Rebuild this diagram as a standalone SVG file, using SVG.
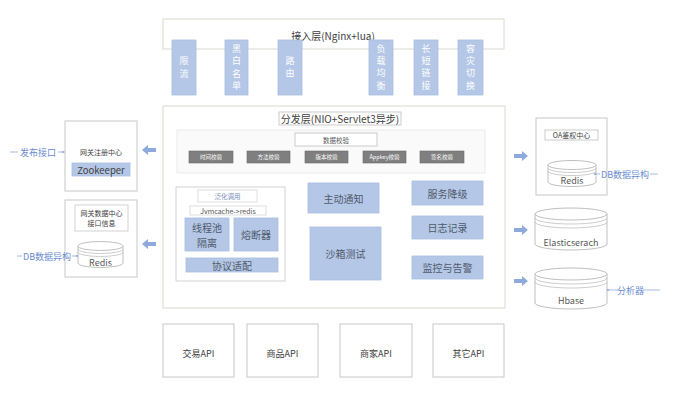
<svg xmlns="http://www.w3.org/2000/svg" width="673" height="399" viewBox="0 0 673 399">
<defs>
<style>
text{font-family:"Noto Sans CJK SC","Liberation Sans",sans-serif;text-anchor:middle;dominant-baseline:central}
.frame{fill:#fff;stroke:#d9d9d0;stroke-width:1}
.frameg{fill:#fff;stroke:#c8c8c8;stroke-width:1}
.blue{fill:#b4c7e7;stroke:#a9bde0;stroke-width:0.8}
.vt{fill:#fff;font-size:9px}
.bt{fill:#505a6a;font-size:10px}
.gray{fill:#7f7f7f;stroke:#6a6a6a;stroke-width:0.6}
.gt{fill:#fff;font-size:5.5px}
.lbl{fill:#6a8bd0;font-size:9px}
.ln{stroke:#8faadc;stroke-width:0.8;fill:none}
.cyl{fill:#fff;stroke:#bfbfbf;stroke-width:1}
.cl{fill:none;stroke:#bfbfbf;stroke-width:0.8}
.dt{fill:#595959;font-size:9px}
.arr{fill:#8ea9db}
</style>
</defs>

<g id="access-layer">
<rect class="frame" x="163" y="19" width="341" height="30"/>
<text x="333" y="35" font-size="10" fill="#404040">接入层(Nginx+lua)</text>
</g>
<g id="xianliu"><rect class="blue" x="172" y="40" width="24" height="55"/><text class="vt" x="184" y="60">限</text><text class="vt" x="184" y="73">流</text></g>
<g id="heibai"><rect class="blue" x="225" y="40" width="23" height="55"/><text class="vt" x="236.5" y="48">黑</text><text class="vt" x="236.5" y="60">白</text><text class="vt" x="236.5" y="73">名</text><text class="vt" x="236.5" y="85">单</text></g>
<g id="luyou"><rect class="blue" x="278" y="40" width="24" height="55"/><text class="vt" x="290" y="60">路</text><text class="vt" x="290" y="72">由</text></g>
<g id="fuzai"><rect class="blue" x="369" y="40" width="24" height="55"/><text class="vt" x="381" y="48">负</text><text class="vt" x="381" y="60">载</text><text class="vt" x="381" y="72">均</text><text class="vt" x="381" y="85">衡</text></g>
<g id="changduan"><rect class="blue" x="414" y="40" width="24" height="55"/><text class="vt" x="426" y="48">长</text><text class="vt" x="426" y="60">短</text><text class="vt" x="426" y="72">链</text><text class="vt" x="426" y="85">接</text></g>
<g id="rongzai"><rect class="blue" x="458" y="40" width="25" height="55"/><text class="vt" x="470.5" y="48">容</text><text class="vt" x="470.5" y="60">灾</text><text class="vt" x="470.5" y="72">切</text><text class="vt" x="470.5" y="85">换</text></g>

<g id="dispatch-layer">
<rect class="frame" x="163" y="106" width="342" height="202"/>
<rect fill="#fff" stroke="#bfbfbf" stroke-width="0.8" x="279" y="112" width="122" height="13"/>
<text x="340" y="118.5" font-size="10" fill="#404040">分发层(NIO+Servlet3异步)</text>
</g>
<g id="data-check">
<rect fill="#fafafa" stroke="#e6e6e6" stroke-width="0.8" x="177" y="130" width="308" height="43"/>
<rect fill="#fff" stroke="#bfbfbf" stroke-width="0.8" x="295" y="133" width="82" height="13"/>
<text x="336" y="139.5" font-size="6.5" fill="#595959">数据校验</text>
<rect class="gray" x="189" y="151" width="44" height="12"/><text class="gt" x="211" y="157">时间校验</text>
<rect class="gray" x="247" y="151" width="43" height="12"/><text class="gt" x="268.5" y="157">方法校验</text>
<rect class="gray" x="305" y="151" width="43" height="12"/><text class="gt" x="326.5" y="157">版本校验</text>
<rect class="gray" x="363" y="151" width="43" height="12"/><text class="gt" x="384.5" y="157">Appkey校验</text>
<rect class="gray" x="420" y="151" width="44" height="12"/><text class="gt" x="442" y="157">签名校验</text>
</g>
<g id="generic-call">
<rect fill="#fff" stroke="#c8c8c8" stroke-width="0.8" x="176" y="187" width="109" height="94"/>
<rect fill="#fff" stroke="#c8c8c8" stroke-width="0.6" x="198" y="190" width="59" height="12"/>
<text x="227.5" y="196" font-size="6.5" fill="#7a8fc0">泛化调用</text>
<rect fill="#fff" stroke="#c8c8c8" stroke-width="0.6" x="190" y="206" width="76" height="9"/>
<text x="228" y="210.5" font-size="7" fill="#555" font-family="Liberation Serif,serif">Jvmcache-&gt;redis</text>
<rect class="blue" x="185" y="218" width="44" height="33"/><text class="bt" x="207" y="227">线程池</text><text class="bt" x="207" y="242.5">隔离</text>
<rect class="blue" x="234" y="218" width="44" height="33"/><text class="bt" x="256" y="234.5">熔断器</text>
<rect class="blue" x="186" y="258" width="92" height="14"/><text class="bt" x="232" y="265">协议适配</text>
</g>
<g id="notify"><rect class="blue" x="308" y="183" width="71" height="30"/><text class="bt" x="343.5" y="198">主动通知</text></g>
<g id="sandbox"><rect class="blue" x="310" y="227" width="71" height="53"/><text class="bt" x="345.5" y="253">沙箱测试</text></g>
<g id="degrade"><rect class="blue" x="412" y="181" width="71" height="24"/><text class="bt" x="447.5" y="193">服务降级</text></g>
<g id="log"><rect class="blue" x="412" y="216" width="71" height="23"/><text class="bt" x="447.5" y="227.5">日志记录</text></g>
<g id="monitor"><rect class="blue" x="412" y="256" width="71" height="23"/><text class="bt" x="447.5" y="267.5">监控与告警</text></g>

<g id="registry">
<rect class="frameg" x="65" y="121" width="72" height="70"/>
<text x="101" y="152" font-size="7" fill="#404040">网关注册中心</text>
<rect class="blue" x="72" y="163" width="58" height="13"/>
<text x="101" y="169.5" font-size="9.5" fill="#404040">Zookeeper</text>
</g>
<g id="datacenter">
<rect class="frameg" x="65" y="200" width="72" height="77"/>
<rect fill="#fff" stroke="#c8c8c8" stroke-width="0.8" x="75" y="205" width="53" height="26"/>
<text x="101.5" y="213" font-size="7" fill="#404040">网关数据中心</text>
<text x="101.5" y="223" font-size="7" fill="#404040">接口信息</text>
<path class="cyl" d="M78,246 v17 a22.5,4.5 0 0 0 45,0 v-17"/>
<ellipse class="cyl" cx="100.5" cy="246" rx="22.5" ry="4.5"/>
<path class="cl" d="M78,249 a22.5,4.5 0 0 0 45,0 M78,252 a22.5,4.5 0 0 0 45,0"/>
<text class="dt" x="100.5" y="262">Redis</text>
</g>

<g id="oa-auth">
<rect class="frameg" x="536" y="118" width="71" height="77"/>
<rect fill="#fff" stroke="#bfbfbf" stroke-width="0.8" x="545" y="130" width="53" height="10"/>
<text x="571.5" y="135" font-size="7" fill="#404040">OA鉴权中心</text>
<path class="cyl" d="M548,165 v17 a24,4.5 0 0 0 48,0 v-17"/>
<ellipse class="cyl" cx="572" cy="165" rx="24" ry="4.5"/>
<path class="cl" d="M548,168 a24,4.5 0 0 0 48,0 M548,171 a24,4.5 0 0 0 48,0"/>
<text class="dt" x="572" y="180">Redis</text>
</g>
<g id="elasticsearch">
<path class="cyl" d="M535,214 v30 a36,6 0 0 0 72,0 v-30"/>
<ellipse class="cyl" cx="571" cy="214" rx="36" ry="6"/>
<path class="cl" d="M535,218 a36,6 0 0 0 72,0 M535,222 a36,6 0 0 0 72,0"/>
<text class="dt" x="571" y="242">Elasticserach</text>
</g>
<g id="hbase">
<path class="cyl" d="M535,274 v29 a36,6 0 0 0 72,0 v-29"/>
<ellipse class="cyl" cx="571" cy="274" rx="36" ry="6"/>
<path class="cl" d="M535,278 a36,6 0 0 0 72,0 M535,282 a36,6 0 0 0 72,0"/>
<text class="dt" x="571" y="300">Hbase</text>
</g>

<g id="api-trade"><rect class="frameg" x="163" y="324" width="71" height="53"/><text x="198.5" y="353" font-size="9" fill="#404040">交易API</text></g>
<g id="api-goods"><rect class="frameg" x="247" y="324" width="71" height="53"/><text x="282.5" y="353" font-size="9" fill="#404040">商品API</text></g>
<g id="api-merchant"><rect class="frameg" x="340" y="324" width="72" height="53"/><text x="376" y="353" font-size="9" fill="#404040">商家API</text></g>
<g id="api-other"><rect class="frameg" x="433" y="324" width="71" height="53"/><text x="468.5" y="353" font-size="9" fill="#404040">其它API</text></g>

<g id="connectors">
<path class="arr" d="M142,150 l6,-5 v3 h8 v4 h-8 v3 z"/>
<path class="arr" d="M142,244 l6,-5 v3 h8 v4 h-8 v3 z"/>
<path class="arr" d="M528,156 l-6,-5 v3 h-8 v4 h8 v3 z"/>
<path class="arr" d="M528,230 l-6,-5 v3 h-8 v4 h8 v3 z"/>
<path class="arr" d="M528,281 l-6,-5 v3 h-8 v4 h8 v3 z"/>
<path class="ln" d="M10,152 h8 M58,152 h7"/>
<circle cx="63" cy="152" r="1" fill="#8faadc"/>
<text class="lbl" x="38" y="152">发布接口</text>
<path class="ln" d="M17,256 h5 M72,256 h6"/>
<circle cx="77" cy="256" r="1" fill="#8faadc"/>
<text class="lbl" x="47" y="256" font-size="8">DB数据异构</text>
<path class="ln" d="M594,174 h6 M650,174 h8"/>
<circle cx="595" cy="174" r="1" fill="#8faadc"/>
<text class="lbl" x="625" y="174" font-size="8">DB数据异构</text>
<path class="ln" d="M607,290 h11 M643,290 h17"/>
<circle cx="608" cy="290" r="1" fill="#8faadc"/>
<text class="lbl" x="630.5" y="290" font-size="8">分析器</text>
</g>
</svg>
